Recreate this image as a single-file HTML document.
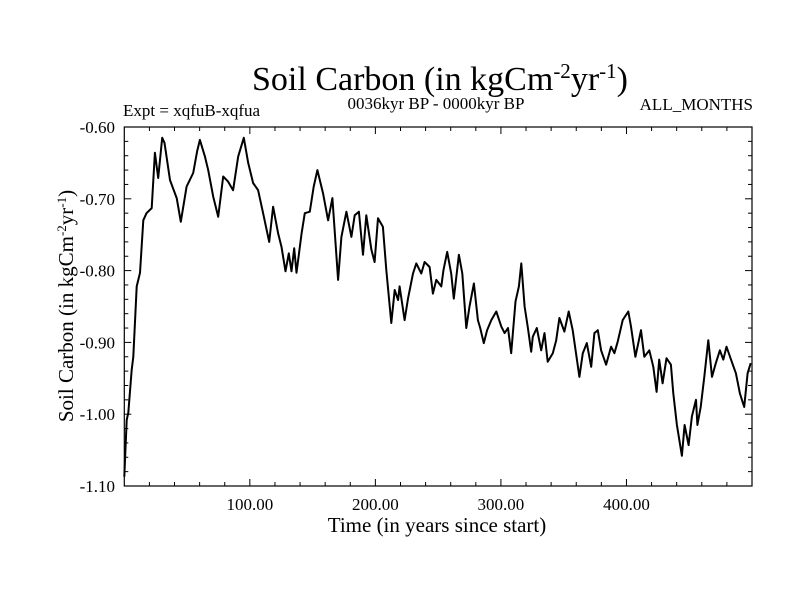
<!DOCTYPE html>
<html><head><meta charset="utf-8"><style>
html,body{margin:0;padding:0;background:#fff;}
svg{display:block;font-family:"Liberation Serif",serif;}
</style></head><body>
<svg id="chart" width="800" height="600" viewBox="0 0 800 600">
<text x="440" y="90" font-size="34" text-anchor="middle">Soil Carbon (in kgCm<tspan dy="-12" font-size="21">-2</tspan><tspan dy="12">yr</tspan><tspan dy="-12" font-size="21">-1</tspan><tspan dy="12">)</tspan></text>
<text x="123" y="116" font-size="17">Expt = xqfuB-xqfua</text>
<text x="436" y="109" font-size="17" text-anchor="middle">0036kyr BP - 0000kyr BP</text>
<text x="753" y="110" font-size="17" text-anchor="end">ALL_MONTHS</text>
<g id="axes"></g>
<path id="line" fill="none" stroke="#000" stroke-width="2" stroke-linejoin="round"></path>
<text x="437" y="532" font-size="21" text-anchor="middle">Time (in years since start)</text>
<text transform="translate(73,306) rotate(-90)" font-size="21" text-anchor="middle">Soil Carbon (in kgCm<tspan dy="-7" font-size="13">-2</tspan><tspan dy="7">yr</tspan><tspan dy="-7" font-size="13">-1</tspan><tspan dy="7">)</tspan></text>
</svg>
<script>
const years=[0,1.9,3.2,5.9,7.2,9.9,12.5,15.1,17.7,21.8,24.4,27,30.2,32,36.4,41.7,45,49.6,54.9,58,60.2,64.2,66.8,70.8,74.8,78.8,82.7,86.7,90.7,95.2,98.7,102.6,106.6,110.6,115.4,118.5,122.5,125.2,128.4,131,133.2,135.3,137.2,141.2,143.8,147.8,150.9,153.8,158.3,162.3,165.8,170.3,172.9,176.9,180.9,183.5,186.9,190.1,192.8,196.8,199.4,202.1,206,208.7,212.7,215.4,218.1,219.3,223.3,226,230,232.6,236.6,239.2,243.2,245.8,248.5,252.5,254.3,257.2,260.4,262.5,266.5,269.2,272.4,275,278.5,281.7,283.5,286.4,289,292.3,296.3,300.3,302.9,305.6,308.2,311.6,314.3,316.2,318.9,321.5,324.1,325.4,328.6,332.1,334.7,337.3,341.3,344,346.6,350.6,354,357.2,362.5,365.2,368.4,371.9,374.5,377.2,379.8,383.8,387.8,390.4,393,397,401.5,403.6,407.1,411.6,414.2,418.2,421.4,424,426.1,428.8,431.9,435.4,437.3,440.2,444.2,446.3,449.5,452.1,455.4,456.5,459.1,462,465.2,468.1,471.2,474.4,477.1,479.7,483.3,487.2,490.4,493.8,496.5,499];
const carbon=[-1.087,-1.008,-0.998,-0.938,-0.920,-0.822,-0.803,-0.730,-0.720,-0.713,-0.636,-0.671,-0.615,-0.622,-0.674,-0.699,-0.732,-0.683,-0.664,-0.634,-0.618,-0.641,-0.660,-0.697,-0.725,-0.669,-0.676,-0.688,-0.641,-0.615,-0.650,-0.678,-0.688,-0.720,-0.760,-0.711,-0.748,-0.767,-0.801,-0.776,-0.801,-0.769,-0.803,-0.748,-0.720,-0.718,-0.683,-0.660,-0.692,-0.730,-0.699,-0.813,-0.753,-0.718,-0.753,-0.723,-0.718,-0.778,-0.723,-0.771,-0.788,-0.727,-0.739,-0.799,-0.873,-0.827,-0.841,-0.822,-0.869,-0.839,-0.804,-0.790,-0.804,-0.788,-0.795,-0.832,-0.813,-0.822,-0.799,-0.774,-0.804,-0.839,-0.778,-0.804,-0.880,-0.850,-0.818,-0.869,-0.880,-0.901,-0.883,-0.869,-0.857,-0.878,-0.887,-0.880,-0.915,-0.843,-0.822,-0.790,-0.850,-0.880,-0.913,-0.892,-0.880,-0.911,-0.887,-0.927,-0.915,-0.897,-0.866,-0.885,-0.857,-0.883,-0.948,-0.915,-0.901,-0.934,-0.887,-0.883,-0.911,-0.931,-0.906,-0.915,-0.899,-0.869,-0.857,-0.878,-0.920,-0.883,-0.920,-0.911,-0.934,-0.969,-0.924,-0.957,-0.922,-0.931,-0.971,-1.015,-1.058,-1.015,-1.043,-1.003,-0.980,-1.015,-0.990,-0.948,-0.897,-0.948,-0.929,-0.911,-0.924,-0.906,-0.924,-0.943,-0.971,-0.990,-0.943,-0.929];
const xTicks=[100,200,300,400];
const xTickLabels=["100.00","200.00","300.00","400.00"];
const yTicks=[-0.6,-0.7,-0.8,-0.9,-1.0,-1.1];
const yTickLabels=["-0.60","-0.70","-0.80","-0.90","-1.00","-1.10"];

const L=124.3,R=752,T=127,B=486,X0=0,X1=500,Y0=-1.1,Y1=-0.6;
const sx=v=>L+(v-X0)/(X1-X0)*(R-L);
const sy=v=>B-(v-Y0)/(Y1-Y0)*(B-T);
const NS="http://www.w3.org/2000/svg";
const g=document.getElementById('axes');
function el(tag,attrs){const e=document.createElementNS(NS,tag);for(const k in attrs)e.setAttribute(k,attrs[k]);g.appendChild(e);return e;}
const frame=el('rect',{x:L,y:T,width:R-L,height:B-T,fill:'none',stroke:'#000','stroke-width':1.2});


for(let v=20;v<X1;v+=20){const major=v%100===0;const len=major?7:4;
 const t1=el('line',{x1:sx(v),x2:sx(v),y1:B,y2:B-len,stroke:'#000'});
 
 
 const t2=el('line',{x1:sx(v),x2:sx(v),y1:T,y2:T+len,stroke:'#000'});
 
 }
for(let i=0;i<=25;i++){const v=Y0+i*0.02;const major=i%5===0;const len=major?7:4;
 const t1=el('line',{x1:L,x2:L+len,y1:sy(v),y2:sy(v),stroke:'#000'});
 
 
 const t2=el('line',{x1:R,x2:R-len,y1:sy(v),y2:sy(v),stroke:'#000'});
 
 }
xTicks.forEach((v,i)=>{const t=el('text',{x:sx(v),y:510,'font-size':17,'text-anchor':'middle'});t.textContent=xTickLabels[i];
 
 });
yTicks.forEach((v,i)=>{const t=el('text',{x:115,y:sy(v)+6,'font-size':17,'text-anchor':'end'});t.textContent=yTickLabels[i];
 
 });
document.getElementById('line').setAttribute('d',years.map((y,i)=>(i?'L':'M')+sx(y).toFixed(1)+','+sy(carbon[i]).toFixed(1)).join(''));
</script>
</body></html>
